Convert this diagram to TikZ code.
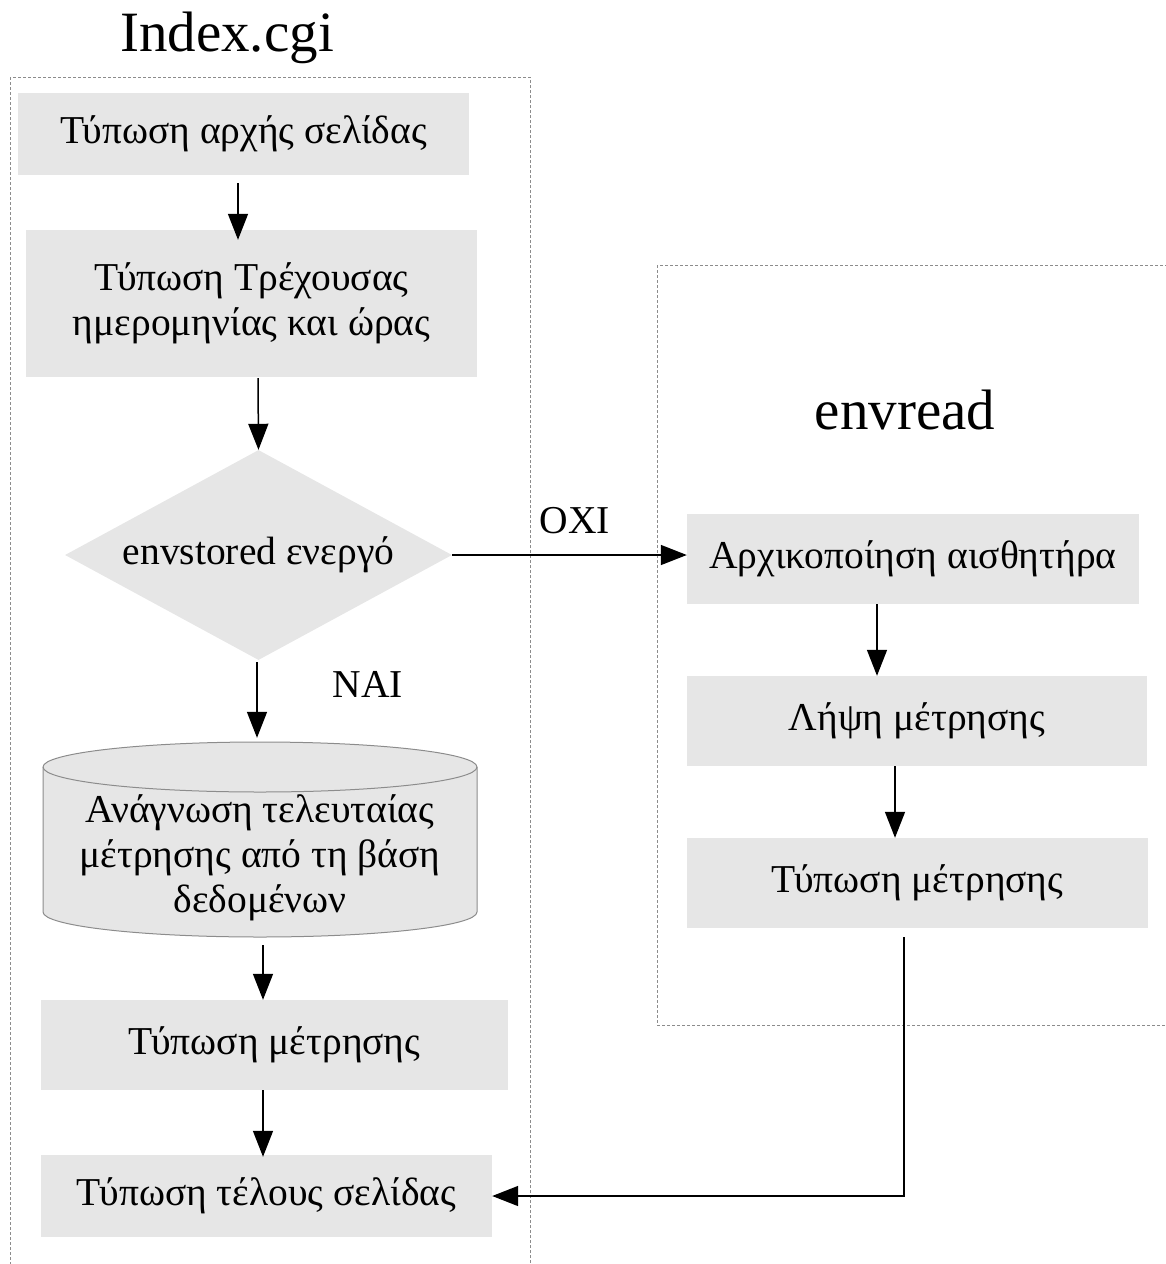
\documentclass[tikz,border=0pt]{standalone}
\usepackage{fontspec}
\setmainfont{Liberation Serif}
\usetikzlibrary{shapes.geometric,arrows.meta}
\definecolor{boxgray}{HTML}{E6E6E6}
\definecolor{framegray}{HTML}{8C8C8C}
\tikzset{
  bodyfont/.style={font=\fontsize{39.5}{45}\selectfont},
  stepbox/.style={fill=boxgray, inner sep=0pt, align=center, bodyfont},
  decision/.style={diamond, fill=boxgray, aspect=1.84, inner sep=0pt,
    minimum width=387, minimum height=210, bodyfont},
  flow/.style={-{Triangle[length=26pt,width=20pt]}, line width=1.5pt, black},
  frame/.style={draw=framegray, line width=1pt, dash pattern=on 3pt off 2pt},
  title/.style={font=\fontsize{57}{60}\selectfont},
  lbl/.style={bodyfont}
}
\begin{document}
\begin{tikzpicture}[x=1pt,y=-1pt]
\useasboundingbox (0,0) rectangle (1166,1264);

% dotted group frames
\begin{scope}
  \clip (0,0) rectangle (1166,1264);
  \draw[frame] (10,77) rectangle (530,1290);
  \draw[frame] (657,265) rectangle (1190,1025);
\end{scope}

\node[title] (t1) at (227,38) {Index.cgi};
\node[title] (t2) at (905,410) {envread};

% left column
\node[stepbox, minimum width=451, minimum height=82] (s1) at (243.5,134) {Τύπωση αρχής σελίδας};
\node[stepbox, minimum width=451, minimum height=147] (s2) at (251.5,303.5) {Τύπωση Τρέχουσας\\ημερομηνίας και ώρας};
\node[decision] (d) at (258.5,555) {envstored ενεργό};

% database cylinder
\fill[boxgray] (43,767) -- (43,912) arc[start angle=180,end angle=360,x radius=217pt,y radius=25pt]
  -- (477,767) arc[start angle=0,end angle=180,x radius=217pt,y radius=25pt] -- cycle;
\draw[framegray, line width=1pt] (43,767) -- (43,912) arc[start angle=180,end angle=360,x radius=217pt,y radius=25pt]
  -- (477,767) arc[start angle=0,end angle=180,x radius=217pt,y radius=25pt] -- cycle;
\draw[framegray, line width=1pt] (43,767) arc[start angle=180,end angle=360,x radius=217pt,y radius=25pt];
\node[align=center, inner sep=0pt, bodyfont, minimum width=434, minimum height=159] (db) at (260,858)
  {Ανάγνωση τελευταίας\\μέτρησης από τη βάση\\δεδομένων};

\node[stepbox, minimum width=467, minimum height=90] (s5) at (274.5,1045) {Τύπωση μέτρησης};
\node[stepbox, minimum width=451, minimum height=82] (s6) at (266.5,1196) {Τύπωση τέλους σελίδας};

% right column
\node[stepbox, minimum width=452, minimum height=90] (r1) at (913,559) {Αρχικοποίηση αισθητήρα};
\node[stepbox, minimum width=460, minimum height=90] (r2) at (917,721) {Λήψη μέτρησης};
\node[stepbox, minimum width=461, minimum height=90] (r3) at (917.5,883) {Τύπωση μέτρησης};

% labels
\node[lbl] (no) at (575,521) {ΟΧΙ};
\node[lbl] (yes) at (368,684) {ΝΑΙ};

% connectors
\draw[flow] ([xshift=-5.5pt,yshift=-8pt]s1.south) -- ([xshift=-13.5pt,yshift=-10pt]s2.north);
\draw[flow] ([xshift=6.5pt,yshift=-1pt]s2.south) -- (d.north);
\draw[flow] ([xshift=-1.5pt,yshift=-2pt]d.south) -- ([xshift=-3pt,yshift=40.5pt]db.north);
\draw[flow] ([xshift=3pt,yshift=-7.5pt]db.south) -- ([xshift=-11.5pt]s5.north);
\draw[flow] ([xshift=-11.5pt]s5.south) -- ([xshift=-3.5pt,yshift=-2pt]s6.north);
\draw[flow] (d.east) -- (r1.west |- d.east);
\draw[flow] ([xshift=-36pt]r1.south) -- ([xshift=-40pt]r2.north);
\draw[flow] ([xshift=-22pt]r2.south) -- ([xshift=-22.5pt]r3.north);
\coordinate (bend) at ([xshift=-13.5pt]r3.south |- s6.east);
\draw[flow] ([xshift=-13.5pt,yshift=-9pt]r3.south) -- (bend) -- (s6.east |- bend);
\end{tikzpicture}
\end{document}
